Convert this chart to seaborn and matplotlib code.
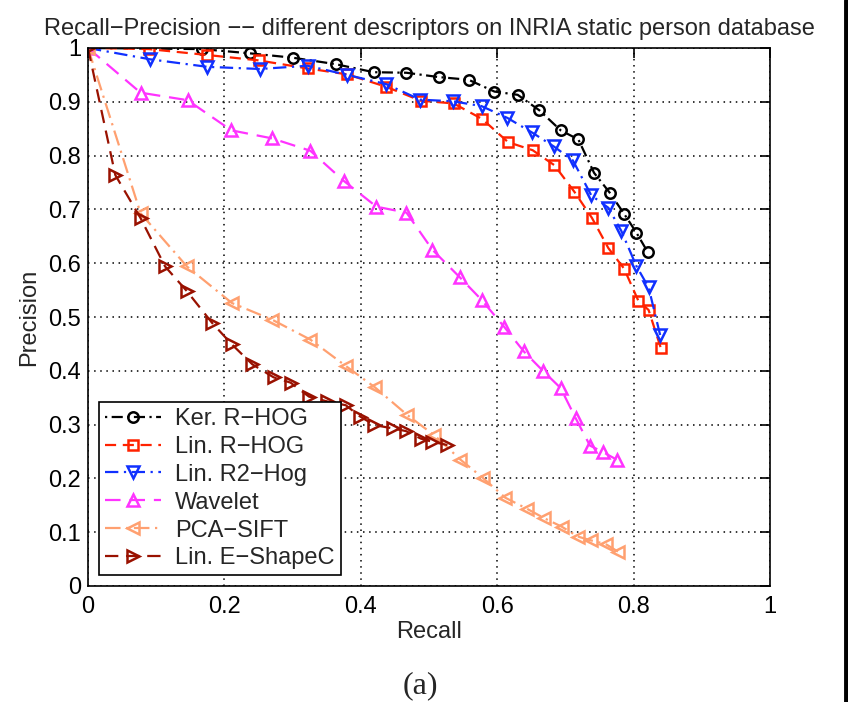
import matplotlib
matplotlib.use("Agg")
import matplotlib.pyplot as plt
import seaborn as sns
import pandas as pd

sns.set_theme(style="white")
plt.rcParams['font.family'] = ['Liberation Sans', 'DejaVu Sans']

# ---- data ----
ker_rhog_x = [0, 0.167, 0.238, 0.300, 0.363, 0.419, 0.467, 0.514, 0.558, 0.596, 0.630, 0.662, 0.693, 0.719, 0.742, 0.765, 0.786, 0.804, 0.821]
ker_rhog_y = [1.0, 0.998, 0.990, 0.982, 0.970, 0.955, 0.954, 0.946, 0.941, 0.919, 0.913, 0.884, 0.847, 0.830, 0.768, 0.731, 0.692, 0.657, 0.620]

lin_rhog_x = [0, 0.089, 0.175, 0.250, 0.322, 0.380, 0.437, 0.488, 0.536, 0.578, 0.616, 0.652, 0.684, 0.713, 0.739, 0.763, 0.786, 0.807, 0.822, 0.840]
lin_rhog_y = [1.0, 0.998, 0.987, 0.977, 0.962, 0.951, 0.928, 0.902, 0.897, 0.868, 0.825, 0.810, 0.782, 0.733, 0.684, 0.628, 0.590, 0.530, 0.513, 0.442]

lin_r2hog_x = [0, 0.091, 0.175, 0.252, 0.322, 0.380, 0.437, 0.487, 0.535, 0.577, 0.615, 0.651, 0.683, 0.711, 0.738, 0.763, 0.782, 0.804, 0.822, 0.839]
lin_r2hog_y = [1.0, 0.979, 0.965, 0.961, 0.967, 0.950, 0.933, 0.904, 0.901, 0.892, 0.870, 0.843, 0.817, 0.791, 0.726, 0.703, 0.660, 0.595, 0.555, 0.466]

wavelet_x = [0, 0.077, 0.146, 0.210, 0.270, 0.326, 0.375, 0.423, 0.467, 0.505, 0.545, 0.577, 0.610, 0.639, 0.667, 0.693, 0.715, 0.736, 0.755, 0.775]
wavelet_y = [1.0, 0.917, 0.903, 0.847, 0.832, 0.809, 0.753, 0.705, 0.694, 0.625, 0.574, 0.532, 0.482, 0.436, 0.400, 0.368, 0.312, 0.261, 0.249, 0.235]

pca_sift_x = [0, 0.077, 0.145, 0.211, 0.270, 0.326, 0.378, 0.421, 0.468, 0.508, 0.546, 0.579, 0.612, 0.643, 0.669, 0.695, 0.718, 0.737, 0.759, 0.777]
pca_sift_y = [1.0, 0.693, 0.594, 0.526, 0.495, 0.458, 0.409, 0.369, 0.318, 0.280, 0.235, 0.201, 0.164, 0.144, 0.126, 0.110, 0.092, 0.085, 0.078, 0.064]

shapec_x = [0, 0.040, 0.077, 0.113, 0.145, 0.182, 0.211, 0.241, 0.272, 0.297, 0.324, 0.351, 0.378, 0.399, 0.420, 0.447, 0.466, 0.488, 0.505, 0.527]
shapec_y = [1.0, 0.764, 0.684, 0.594, 0.548, 0.489, 0.449, 0.412, 0.388, 0.378, 0.352, 0.343, 0.336, 0.315, 0.299, 0.293, 0.288, 0.274, 0.268, 0.262]

series_names = ["Ker. R\u2212HOG", "Lin. R\u2212HOG", "Lin. R2\u2212Hog", "Wavelet", "PCA\u2212SIFT", "Lin. E\u2212ShapeC"]
xticks = [0, 0.2, 0.4, 0.6, 0.8, 1]
xtick_labels = ["0", "0.2", "0.4", "0.6", "0.8", "1"]
yticks = [0, 0.1, 0.2, 0.3, 0.4, 0.5, 0.6, 0.7, 0.8, 0.9, 1]
ytick_labels = ["0", "0.1", "0.2", "0.3", "0.4", "0.5", "0.6", "0.7", "0.8", "0.9", "1"]

styles = [
    dict(color="#000000", marker="o", dashes=(1, 2, 5, 2), ms=7.5),
    dict(color="#ff2200", marker="s", dashes=(5, 3), ms=6.5),
    dict(color="#1030ff", marker="v", dashes=(6, 2.5, 1, 2.5), ms=8),
    dict(color="#ff33ff", marker="^", dashes=(7, 4), ms=8),
    dict(color="#ffa070", marker="<", dashes=(7, 2.5, 1, 2.5), ms=8),
    dict(color="#991100", marker=">", dashes=(6, 3.5), ms=8),
]

data_x = [ker_rhog_x, lin_rhog_x, lin_r2hog_x, wavelet_x, pca_sift_x, shapec_x]
data_y = [ker_rhog_y, lin_rhog_y, lin_r2hog_y, wavelet_y, pca_sift_y, shapec_y]

FS = 17

fig = plt.figure(figsize=(8.48, 7.02), dpi=100)
ax = fig.add_axes([88/848, 1-586/702, (770-88)/848, (586-48)/702])

for name, xs, ys, st in zip(series_names, data_x, data_y, styles):
    df = pd.DataFrame({"Recall": xs, "Precision": ys})
    sns.lineplot(data=df, x="Recall", y="Precision", ax=ax, sort=False, estimator=None,
                 color=st["color"], marker=st["marker"], markersize=st["ms"],
                 markerfacecolor="none", markeredgecolor=st["color"], markeredgewidth=1.8,
                 linewidth=1.6, label=name)
    ax.lines[-1].set_dashes(st["dashes"])

ax.set_xlim(0, 1)
ax.set_ylim(0, 1)
ax.set_xticks(xticks)
ax.set_xticklabels(xtick_labels)
ax.set_yticks(yticks)
ax.set_yticklabels(ytick_labels)
ax.tick_params(direction="in", length=7, width=1.2, top=True, right=True, labelsize=FS,
               colors="black", pad=5)
ax.tick_params(axis="x", pad=7)
ax.grid(True, color="black", linestyle=(0, (1, 3)), linewidth=1.1)
for sp in ax.spines.values():
    sp.set_color("black")
    sp.set_linewidth(1.2)
    sp.set_visible(True)

ax.set_xlabel("Recall", fontsize=FS, labelpad=2)
ax.set_ylabel("Precision", fontsize=FS, labelpad=6)
ax.set_title("Recall\u2212Precision \u2212\u2212 different descriptors on INRIA static person database",
             fontsize=FS, pad=9)

leg = ax.legend(loc="lower left", fontsize=FS, frameon=True, fancybox=False, edgecolor="black",
                framealpha=1, handlelength=2.4, borderpad=0.25, labelspacing=0.25,
                handletextpad=0.6, borderaxespad=0.45)
leg.get_frame().set_linewidth(1.2)

fig.text(420/848, 1-686/702, "(a)", fontsize=23, family=["Liberation Serif", "DejaVu Serif"],
         ha="center", va="center")
fig.add_artist(plt.Line2D([845.5/848, 845.5/848], [0, 1], color="black", linewidth=3.5,
                          transform=fig.transFigure))

fig.savefig("out.png", dpi=100)
